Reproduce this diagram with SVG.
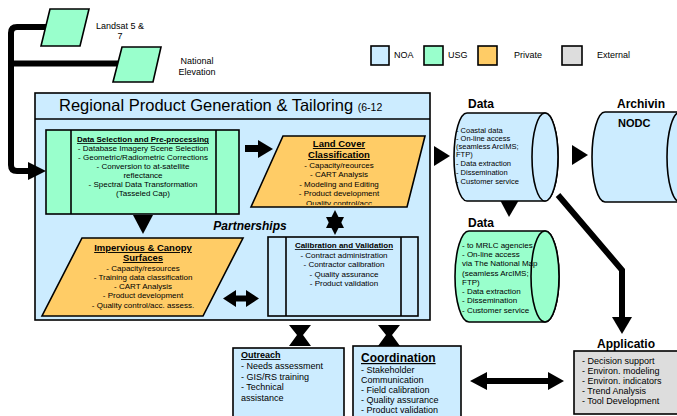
<svg xmlns="http://www.w3.org/2000/svg" width="677" height="416" viewBox="0 0 677 416">
<defs>
<style>
text{font-family:"Liberation Sans",Arial,sans-serif;fill:#000}
.noa{fill:#CCECFF;stroke:#000;stroke-width:1.6}
.usg{fill:#99FFCC;stroke:#000;stroke-width:1.6}
.pri{fill:#FFCC66;stroke:#000;stroke-width:1.6}
.ext{fill:#DDDDDD;stroke:#000;stroke-width:1.6}
.fill{fill:#000;stroke:none}
.thick{fill:none;stroke:#000;stroke-width:6}
.t8{font-size:8px}
.t75{font-size:7.5px}
.t9{font-size:9px}
.b{font-weight:bold}
.u{text-decoration:underline}
.c{text-anchor:middle}
</style>
<clipPath id="lcclip"><rect x="240" y="130" width="200" height="75"/></clipPath>
</defs>

<g id="regional">
<rect class="noa" x="35" y="93" width="395" height="227" stroke-width="1.8"/>
<line x1="35" y1="119" x2="430" y2="119" stroke="#000" stroke-width="1.6"/>
<text x="59" y="111" font-size="16.5">Regional Product Generation &amp; Tailoring <tspan font-size="10.5">(6-12</tspan></text>
<text x="250" y="230" font-size="12" font-weight="bold" font-style="italic" text-anchor="middle">Partnerships</text>
</g>

<g id="connectors">
<path class="thick" d="M46,27 H17 Q11,27 11,33 V165 Q11,171 17,171 H30"/>
<path class="thick" d="M11,63.5 H119"/>
<polygon class="fill" points="28,162 46,171 28,180"/>
<rect class="fill" x="245" y="145" width="14" height="7"/>
<polygon class="fill" points="258,140 273,149 258,158"/>
<polygon class="fill" points="434,146 450,156 434,166"/>
<polygon class="fill" points="572,145 588,155 572,165"/>
<polygon class="fill" points="500,200 519,200 509,217"/>
<polyline class="thick" points="558,195 622,270 622,318"/>
<polygon class="fill" points="612,317 632,317 622,334"/>
<polygon class="fill" points="133,215 153,215 143,234"/>
<polygon class="fill" points="335,210 344,228 326,228"/>
<polygon class="fill" points="326,217 344,217 335,235"/>
<polygon class="fill" points="223,298.5 236,290 236,295.5 246,295.5 246,290 259,298.5 246,307 246,301.5 236,301.5 236,307"/>
<polygon class="fill" points="289,325 311,325 303,335 311,346 289,346 297,335"/>
<polygon class="fill" points="378,325 400,325 392,335 400,346 378,346 386,335"/>
<polygon class="fill" points="470,381 487,372 487,378 548,378 548,372 564,381 548,390 548,384 487,384 487,390"/>
</g>

<g id="legend">
<rect class="noa" x="371" y="46" width="18" height="19"/>
<text class="t9" x="394" y="58">NOA</text>
<rect class="usg" x="424" y="46" width="19" height="19"/>
<text class="t9" x="448" y="58">USG</text>
<rect class="pri" x="478" y="46" width="19" height="19"/>
<text class="t9" x="514" y="58">Private</text>
<rect class="ext" x="562" y="46" width="20" height="19"/>
<text class="t9" x="597" y="58">External</text>
</g>

<g id="landsat">
<polygon class="usg" points="50,9 89,9 80,46 41,46"/>
<text class="t9 c" x="120" y="29">Landsat 5 &amp;</text>
<text class="t9 c" x="120" y="39">7</text>
</g>

<g id="national-elevation">
<polygon class="usg" points="122,47 161,47 153,82 113,82"/>
<text class="t9 c" x="197" y="64">National</text>
<text class="t9 c" x="197" y="75">Elevation</text>
</g>

<g id="data-selection">
<rect class="usg" x="46" y="130" width="193" height="84"/>
<line x1="71" y1="130" x2="71" y2="214" stroke="#000" stroke-width="1.6"/>
<line x1="216" y1="130" x2="216" y2="214" stroke="#000" stroke-width="1.6"/>
<text class="t8 b u c" x="143" y="142">Data Selection and Pre-processing</text>
<text class="t8 c" x="143" y="151">- Database Imagery Scene Selection</text>
<text class="t8 c" x="143" y="160">- Geometric/Radiometric Corrections</text>
<text class="t8 c" x="143" y="169">- Conversion to at-satellite</text>
<text class="t8 c" x="143" y="178">reflectance</text>
<text class="t8 c" x="143" y="187">- Spectral Data Transformation</text>
<text class="t8 c" x="143" y="196">(Tasseled Cap)</text>
</g>

<g id="land-cover">
<polygon class="pri" points="283,136 425,136 407,207 251,207"/>
<text class="b u c" font-size="9.5" x="339" y="147">Land Cover</text>
<text class="b u c" font-size="9.5" x="339" y="158">Classification</text>
<text class="t8 c" x="339" y="168">- Capacity/reources</text>
<text class="t8 c" x="339" y="177">- CART Analysis</text>
<text class="t8 c" x="339" y="187">- Modeling and Editing</text>
<text class="t8 c" x="339" y="196">- Product development</text>
<text class="t8 c" x="339" y="206" clip-path="url(#lcclip)">Quality control/acc</text>
</g>

<g id="impervious">
<polygon class="pri" points="82,238 243,238 203,316 42,316"/>
<text class="b u c" font-size="9.5" x="143" y="251">Impervious &amp; Canopy</text>
<text class="b u c" font-size="9.5" x="143" y="261">Surfaces</text>
<text class="t8 c" x="143" y="271">- Capacity/resources</text>
<text class="t8 c" x="143" y="280">- Training data classification</text>
<text class="t8 c" x="143" y="289">- CART Analysis</text>
<text class="t8 c" x="143" y="298">- Product development</text>
<text class="t8 c" x="143" y="308">- Quality control/acc. assess.</text>
</g>

<g id="calibration">
<rect class="noa" x="268" y="237" width="150" height="79"/>
<line x1="286" y1="237" x2="286" y2="316" stroke="#000" stroke-width="1.6"/>
<line x1="401" y1="237" x2="401" y2="316" stroke="#000" stroke-width="1.6"/>
<text class="t8 b u c" x="344" y="248">Calibration and Validation</text>
<text class="t8 c" x="344" y="258">- Contract administration</text>
<text class="t8 c" x="344" y="267">- Contractor calibration</text>
<text class="t8 c" x="344" y="277">- Quality assurance</text>
<text class="t8 c" x="344" y="286">- Product validation</text>
</g>

<g id="data-noaa">
<text class="b" font-size="12" x="468" y="108">Data</text>
<path class="noa" d="M467,113 H545 A13,44 0 0 1 545,201 H467 A13,44 0 0 1 467,113 Z"/>
<ellipse class="noa" cx="545" cy="157" rx="13" ry="44"/>
<text class="t75" x="456" y="133">- Coastal data</text>
<text class="t75" x="456" y="141">- On-line access</text>
<text class="t75" x="456" y="149">(seamless ArcIMS;</text>
<text class="t75" x="456" y="157">FTP)</text>
<text class="t75" x="456" y="166">- Data extraction</text>
<text class="t75" x="456" y="175">- Dissemination</text>
<text class="t75" x="456" y="184">- Customer service</text>
</g>

<g id="archiving">
<text class="b" font-size="12" x="617" y="108">Archivin</text>
<path class="noa" d="M605,112 H680 A13,45 0 0 1 680,202 H605 A13,45 0 0 1 605,112 Z"/>
<ellipse class="noa" cx="680" cy="157" rx="13" ry="45"/>
<text class="b" font-size="11" x="618" y="127">NODC</text>
</g>

<g id="data-usgs">
<text class="b" font-size="12" x="468" y="227">Data</text>
<path class="usg" d="M469,231 H545 A14,45.5 0 0 1 545,322 H469 A14,45.5 0 0 1 469,231 Z"/>
<ellipse class="usg" cx="545" cy="276.5" rx="14" ry="45.5"/>
<text class="t8" x="462" y="248">- to MRLC agencies</text>
<text class="t8" x="462" y="257">- On-line access</text>
<text class="t8" x="462" y="266">via The National Map</text>
<text class="t8" x="462" y="276">(seamless ArcIMS;</text>
<text class="t8" x="462" y="285">FTP)</text>
<text class="t8" x="462" y="294">- Data extraction</text>
<text class="t8" x="462" y="303">- Dissemination</text>
<text class="t8" x="462" y="313">- Customer service</text>
</g>

<g id="outreach">
<rect class="noa" x="233" y="348" width="111" height="74"/>
<text class="t9 b u" x="241" y="358">Outreach</text>
<text class="t9" x="241" y="369">- Needs assessment</text>
<text class="t9" x="241" y="380">- GIS/RS training</text>
<text class="t9" x="241" y="390">- Technical</text>
<text class="t9" x="241" y="401">assistance</text>
</g>

<g id="coordination">
<rect class="noa" x="353" y="346" width="108" height="76"/>
<text class="b u" font-size="12" x="361" y="362">Coordination</text>
<text class="t9" x="361" y="373">- Stakeholder</text>
<text class="t9" x="361" y="383">Communication</text>
<text class="t9" x="361" y="393">- Field calibration</text>
<text class="t9" x="361" y="403">- Quality assurance</text>
<text class="t9" x="361" y="413">- Product validation</text>
</g>

<g id="applications">
<text class="b" font-size="12" x="597" y="348">Applicatio</text>
<rect class="ext" x="574" y="351" width="106" height="63"/>
<text class="t9" x="582" y="364">- Decision support</text>
<text class="t9" x="582" y="374">- Environ. modeling</text>
<text class="t9" x="582" y="384">- Environ. indicators</text>
<text class="t9" x="582" y="394">- Trend Analysis</text>
<text class="t9" x="582" y="404">- Tool Development</text>
</g>
</svg>
